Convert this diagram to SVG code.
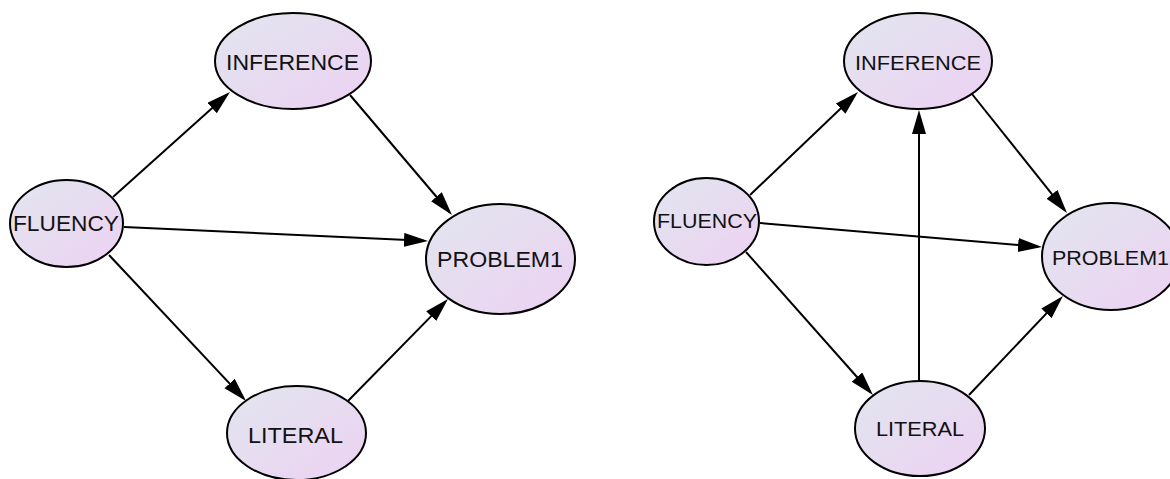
<svg xmlns="http://www.w3.org/2000/svg" width="1170" height="479" viewBox="0 0 1170 479">
<style>
.node ellipse{fill:url(#g);stroke:#000;stroke-width:2}
.node text{font-family:"Liberation Sans",Arial,sans-serif;fill:#111;text-anchor:middle}
.l text{font-size:22px}
.r text{font-size:21px}
#edges line{stroke:#000;stroke-width:2;marker-end:url(#ah)}
</style>
<defs>
<linearGradient id="g" x1="0" y1="0" x2="1" y2="1">
<stop offset="0" stop-color="#e1e6ee"/>
<stop offset="1" stop-color="#edd1f3"/>
</linearGradient>
<marker id="ah" markerUnits="userSpaceOnUse" markerWidth="26" markerHeight="16" refX="20" refY="7" orient="auto">
<path d="M0,0 L24,7 L0,14 z" fill="#000"/>
</marker>
</defs>
<rect width="1170" height="479" fill="#fff"/>
<g class="l">
<g id="L_INFERENCE" class="node"><ellipse cx="293" cy="61" rx="78" ry="48"/><text x="292.5" y="70" textLength="133" lengthAdjust="spacingAndGlyphs">INFERENCE</text></g>
<g id="L_FLUENCY" class="node"><ellipse cx="66.5" cy="223.5" rx="56.5" ry="43.5"/><text x="66" y="231" textLength="106" lengthAdjust="spacingAndGlyphs">FLUENCY</text></g>
<g id="L_PROBLEM1" class="node"><ellipse cx="500.5" cy="259" rx="74.5" ry="55"/><text x="500" y="267" textLength="126" lengthAdjust="spacingAndGlyphs">PROBLEM1</text></g>
<g id="L_LITERAL" class="node"><ellipse cx="296.5" cy="433" rx="69.5" ry="47"/><text x="295.5" y="443" textLength="95" lengthAdjust="spacingAndGlyphs">LITERAL</text></g>
</g>
<g class="r">
<g id="R_INFERENCE" class="node"><ellipse cx="918" cy="61" rx="74" ry="48"/><text x="918" y="69.5" textLength="126" lengthAdjust="spacingAndGlyphs">INFERENCE</text></g>
<g id="R_FLUENCY" class="node"><ellipse cx="706.5" cy="221.5" rx="52.5" ry="43.5"/><text x="707" y="227.5" textLength="100" lengthAdjust="spacingAndGlyphs">FLUENCY</text></g>
<g id="R_PROBLEM1" class="node"><ellipse cx="1111" cy="256.5" rx="69" ry="53.5"/><text x="1110.5" y="264.5" textLength="117" lengthAdjust="spacingAndGlyphs">PROBLEM1</text></g>
<g id="R_LITERAL" class="node"><ellipse cx="920" cy="428.5" rx="65" ry="47.5"/><text x="920" y="435.5" textLength="88" lengthAdjust="spacingAndGlyphs">LITERAL</text></g>
</g>
<g id="edges">
<line x1="113" y1="197" x2="227" y2="94.7"/>
<line x1="350" y1="95" x2="449.4" y2="212"/>
<line x1="124" y1="227" x2="424" y2="240.8"/>
<line x1="109" y1="255" x2="243.3" y2="398.1"/>
<line x1="348" y1="401" x2="445.2" y2="301.9"/>
<line x1="750" y1="195" x2="855.1" y2="94.8"/>
<line x1="919" y1="381" x2="919" y2="114"/>
<line x1="972" y1="94" x2="1064.5" y2="209.9"/>
<line x1="760" y1="223" x2="1038" y2="246.7"/>
<line x1="746" y1="252" x2="870.3" y2="392"/>
<line x1="969" y1="395" x2="1060.2" y2="298.9"/>
</g>
</svg>
